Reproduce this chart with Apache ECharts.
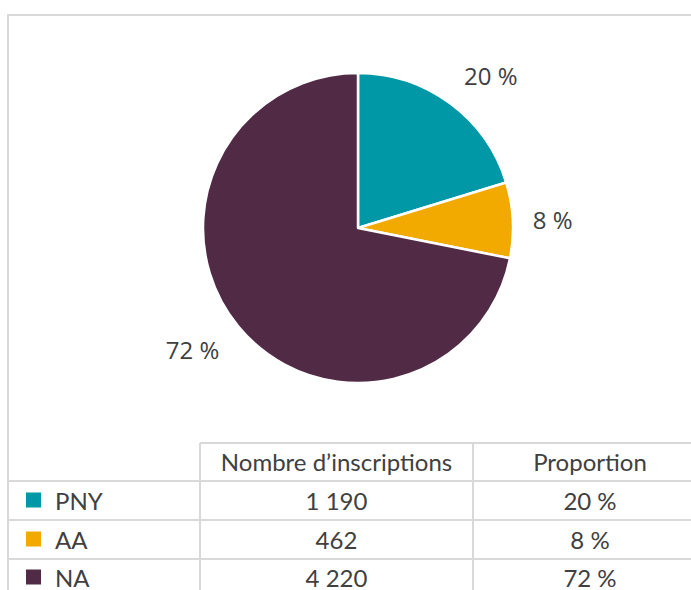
<!DOCTYPE html>
<html>
<head>
<meta charset="utf-8">
<script src="https://cdn.jsdelivr.net/npm/echarts@6/dist/echarts.min.js"></script>
<style>
    html, body { margin: 0; padding: 0; background: #ffffff; }
    #chart { width: 691px; height: 590px; }
</style>
</head>
<body>
<div id="chart"></div>
<script>
// Data
const categories = ["PNY", "AA", "NA"];
const inscriptions = [1190, 462, 4220];
const inscriptionLabels = ["1 190", "462", "4 220"];
const proportionLabels = ["20 %", "8 %", "72 %"];
const tableHeaders = ["Nombre d’inscriptions", "Proportion"];

// Styles
const colors = ["#0097a7", "#f2a900", "#512b45"];
const textColor = "#404040";
const gridColor = "#d9d9d9";
// per-slice label placement (length, length2) to mimic Excel's "best fit"
const labelLines = [[35, -12], [15, 0], [36, -14]];

const chart = echarts.init(document.getElementById("chart"), null, { renderer: "svg" });

// Table layout
const rowLines = [443, 481, 520, 559, 596];
const colX = [8, 200, 473, 707];
const tableFont = "24px Lato";

function textEl(text, x, y, align) {
    return {
        type: "text",
        silent: true,
        style: {
            text: text, x: x, y: y,
            font: tableFont,
            fill: textColor,
            textAlign: align, align: align,
            textVerticalAlign: "middle", verticalAlign: "middle"
        }
    };
}

function lineEl(x1, y1, x2, y2) {
    return {
        type: "line",
        silent: true,
        shape: { x1: x1, y1: y1, x2: x2, y2: y2 },
        style: { stroke: gridColor, lineWidth: 2 }
    };
}

const elements = [];

// chart area border
elements.push({
    type: "rect",
    silent: true,
    shape: { x: 8, y: 15, width: 720, height: 620 },
    style: { fill: "none", stroke: gridColor, lineWidth: 2 }
});

// grid lines
elements.push(lineEl(colX[1], rowLines[0], 691, rowLines[0]));
for (let i = 1; i < rowLines.length - 1; i++) {
    elements.push(lineEl(colX[0], rowLines[i], 691, rowLines[i]));
}
elements.push(lineEl(colX[1], rowLines[0], colX[1], 600));
elements.push(lineEl(colX[2], rowLines[0], colX[2], 600));

// header
const headerY = (rowLines[0] + rowLines[1]) / 2 - 1;
elements.push(textEl(tableHeaders[0], (colX[1] + colX[2]) / 2, headerY, "center"));
elements.push(textEl(tableHeaders[1], (colX[2] + colX[3]) / 2, headerY, "center"));

// rows
categories.forEach((name, i) => {
    const cy = (rowLines[i + 1] + rowLines[i + 2]) / 2;
    elements.push({
        type: "rect",
        silent: true,
        shape: { x: 26, y: cy - 8, width: 15, height: 15 },
        style: { fill: colors[i] }
    });
    elements.push(textEl(name, 55, cy, "left"));
    elements.push(textEl(inscriptionLabels[i], (colX[1] + colX[2]) / 2, cy, "center"));
    elements.push(textEl(proportionLabels[i], (colX[2] + colX[3]) / 2, cy, "center"));
});

const option = {
    animation: false,
    backgroundColor: "#ffffff",
    graphic: { elements: elements },
    series: [
        {
            type: "pie",
            center: [358, 228],
            radius: 155,
            startAngle: 90,
            clockwise: true,
            avoidLabelOverlap: false,
            silent: true,
            itemStyle: { borderColor: "#ffffff", borderWidth: 2.5 },
            label: {
                show: true,
                position: "outside",
                color: textColor,
                fontFamily: "Open Sans",
                fontSize: 24,
                distanceToLabelLine: 5,
                formatter: p => Math.round(p.percent) + " %"
            },
            labelLine: { show: false },
            data: categories.map((name, i) => ({
                name: name,
                value: inscriptions[i],
                itemStyle: { color: colors[i] },
                labelLine: { show: false, length: labelLines[i][0], length2: labelLines[i][1] }
            }))
        }
    ]
};

chart.setOption(option);
</script>
</body>
</html>
